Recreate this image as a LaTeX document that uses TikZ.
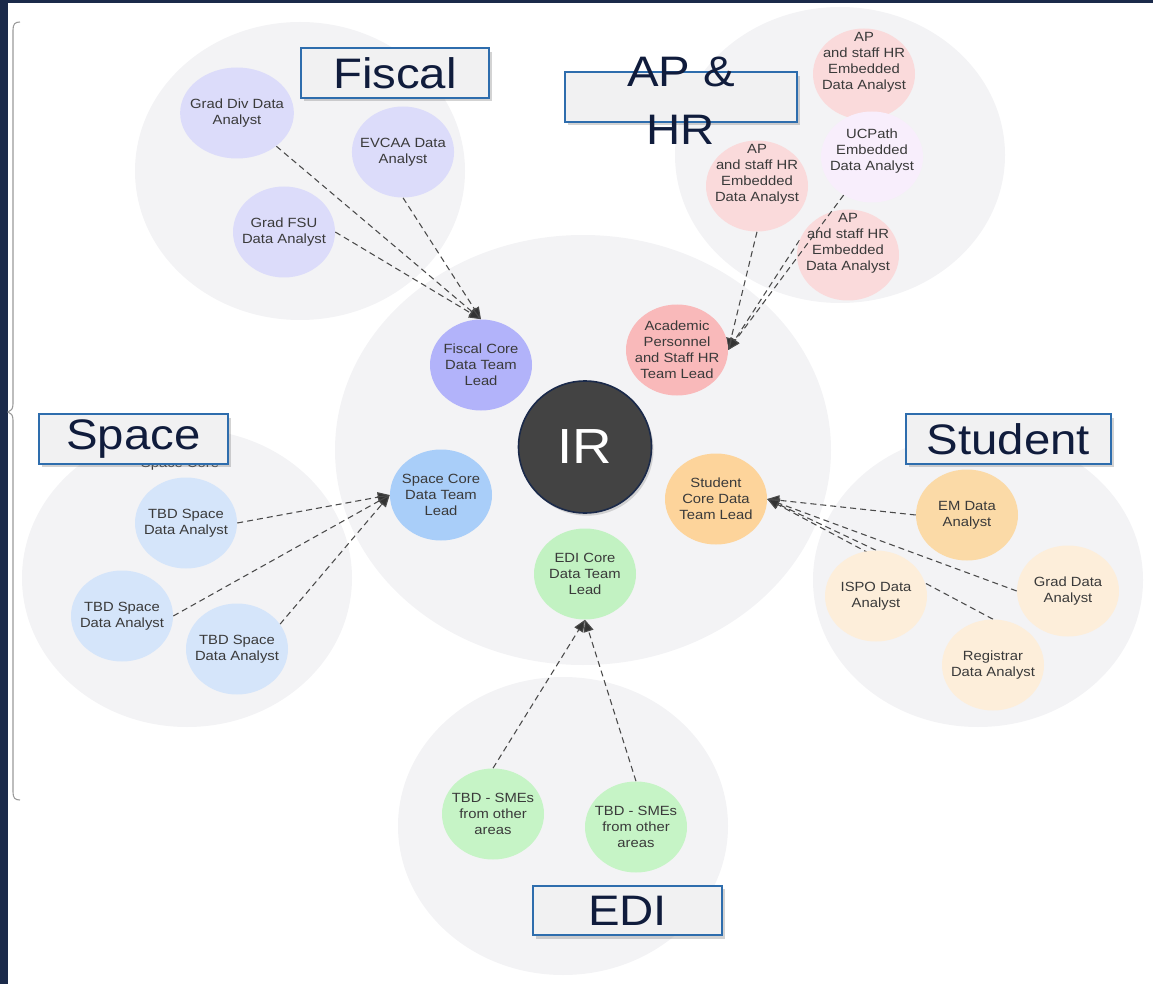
\documentclass[tikz,border=0pt]{standalone}
\usepackage{fontspec}
\setmainfont{Liberation Sans}[FakeStretch=1.11]
\usetikzlibrary{shapes.geometric,arrows.meta,shadows}

\definecolor{navy}{HTML}{1B2A4A}
\definecolor{groupgray}{HTML}{F3F3F5}
\definecolor{fiscA}{HTML}{DCDCFA}
\definecolor{fiscL}{HTML}{B2B3FA}
\definecolor{apA}{HTML}{FADADB}
\definecolor{apU}{HTML}{F8EEFC}
\definecolor{apL}{HTML}{F9B9BA}
\definecolor{spA}{HTML}{D5E5FA}
\definecolor{spL}{HTML}{A9CEF9}
\definecolor{stuL}{HTML}{FDD49B}
\definecolor{stuE}{HTML}{FBDAA7}
\definecolor{stuA}{HTML}{FDEEDA}
\definecolor{ediL}{HTML}{C2F2C2}
\definecolor{ediA}{HTML}{C6F4C6}
\definecolor{tagblue}{HTML}{2E6DAD}
\definecolor{tagfill}{HTML}{F1F1F2}
\definecolor{ink}{HTML}{3A3A3A}
\definecolor{taginkk}{HTML}{101C3C}
\definecolor{irfill}{HTML}{434343}
\definecolor{feedgray}{HTML}{4A4A4A}

% text block set higher than the middle of its bubble
\newcommand{\liftup}[2]{\raisebox{#1}[\height][\depth]{\begin{tabular}{@{}c@{}}#2\end{tabular}}}

\pgfdeclarelayer{background}
\pgfdeclarelayer{edges}
\pgfsetlayers{background,edges,main}

\begin{document}
\begin{tikzpicture}[x=0.75pt, y=-0.75pt, every node/.style={font=\fontsize{10}{12}\selectfont,text=ink},
  group/.style={fill=groupgray},
  member/.style={ellipse,align=center,minimum width=76.5pt,minimum height=68.25pt,inner xsep=-5pt,inner ysep=-12pt},
  apnote/.style={member,fill=apA},
  feed/.style={draw=feedgray,line width=0.8pt,dash pattern=on 4.5pt off 3pt,-{Triangle[length=9pt,width=7.5pt,fill=black!80]}},
  tag/.style={draw=tagblue,line width=1.5pt,fill=tagfill,minimum height=37pt,font=\fontsize{32}{43.5}\selectfont,text=taginkk,
    drop shadow={shadow xshift=2pt,shadow yshift=-2.5pt,opacity=0.35}},
  tagtext/.style={font=\fontsize{32}{43.5}\selectfont,text=taginkk,align=center}]
\useasboundingbox (0,0) rectangle (1153,984);
% frame
\fill[navy] (0,0) rectangle (1153,3);
\fill[navy] (0,0) rectangle (8,984);
\draw[gray!80,line width=0.8pt] (20,22) .. controls (15,22) and (13,24) .. (13,30) -- (13,404)
  .. controls (13,409) and (11,411) .. (8,412) .. controls (11,413) and (13,415) .. (13,420) -- (13,792)
  .. controls (13,798) and (15,800) .. (20,800);
% groups
\begin{pgfonlayer}{background}
\fill[group] (300,171) ellipse [x radius=165, y radius=149];
\fill[group] (840,155) ellipse [x radius=165, y radius=148];
\fill[group] (583,450) ellipse [x radius=248, y radius=215];
\fill[group] (187,578) ellipse [x radius=165, y radius=149];
\fill[group] (978,580) ellipse [x radius=165, y radius=147];
\fill[group] (563,826) ellipse [x radius=165, y radius=149];
\end{pgfonlayer}
% fiscal
\node[member,fill=fiscA] (gdiv) at (237,113) {Grad Div Data\\Analyst};
\node[member,fill=fiscA] (evcaa) at (403,152) {EVCAA Data\\Analyst};
\node[member,fill=fiscA] (gfsu) at (284,232) {Grad FSU\\Data Analyst};
\node[member,fill=fiscL] (fisc) at (481,365) {Fiscal Core\\Data Team\\Lead};
% ap & hr
\node[apnote] (ap1) at (864,74) {\liftup{9pt}{AP\\and staff HR\\Embedded\\Data Analyst}};
\node[member,fill=apU] (ucp) at (872,157) {\liftup{4.5pt}{UCPath\\Embedded\\Data Analyst}};
\node[apnote] (ap2) at (757,186) {\liftup{9pt}{AP\\and staff HR\\Embedded\\Data Analyst}};
\node[apnote] (ap3) at (848,255) {\liftup{9pt}{AP\\and staff HR\\Embedded\\Data Analyst}};
\node[member,fill=apL] (aphr) at (677,350) {Academic\\Personnel\\and Staff HR\\Team Lead};
% space
\node[member,fill=spA] (sp1) at (186,523) {TBD Space\\Data Analyst};
\node[member,fill=spA] (sp2) at (122,616) {TBD Space\\Data Analyst};
\node[member,fill=spA] (sp3) at (237,649) {TBD Space\\Data Analyst};
\node[member,fill=spL] (spc) at (441,495) {Space Core\\Data Team\\Lead};
% student
\node[member,fill=stuE] (em) at (967,515) {EM Data\\Analyst};
\node[member,fill=stuA] (ispo) at (876,596) {ISPO Data\\Analyst};
\node[member,fill=stuA] (grad) at (1068,591) {Grad Data\\Analyst};
\node[member,fill=stuA] (reg) at (993,665) {Registrar\\Data Analyst};
\node[member,fill=stuL] (stu) at (716,499) {Student\\Core Data\\Team Lead};
% edi
\node[member,fill=ediA] (sme1) at (493,814) {TBD - SMEs\\from other\\areas};
\node[member,fill=ediA] (sme2) at (636,827) {TBD - SMEs\\from other\\areas};
\node[member,fill=ediL] (edi) at (585,574) {EDI Core\\Data Team\\Lead};
% centre
\node[ellipse,fill=irfill,draw=navy,line width=1.2pt,minimum width=99.75pt,minimum height=99pt,text=white,
  font=\fontsize{37}{40}\selectfont,drop shadow={shadow xshift=1.5pt,shadow yshift=-2pt,opacity=0.3}] (ir) at (585,447) {IR};
% feeds into the leads
\begin{pgfonlayer}{edges}
\draw[feed] (gdiv) -- (fisc.north); \draw[feed] (evcaa.south) -- (fisc.north); \draw[feed] (gfsu.east) -- (fisc.north);
\draw[feed] (ap2.south) -- (aphr.east); \draw[feed] (ap3.163) -- (aphr.east);
\draw[feed] (sp1.east) -- (spc.west); \draw[feed] (sp2.east) -- (spc.west); \draw[feed] (sp3.30) -- (spc.west);
\draw[feed] (em.west) -- (stu.east); \draw[feed] (ispo.north) -- (stu.east);
\draw[feed] (grad.west) -- (stu.east); \draw[feed] (reg.north) -- (stu.east);
\draw[feed] (sme1.north) -- (edi.south); \draw[feed] (sme2.north) -- (edi.south);
\end{pgfonlayer}
\draw[feed] (ucp) -- (aphr.east);
% group tags
\node[anchor=base] (spcore) at (180,467) {Space Core};
\node[tag,minimum width=141pt] (tfisc) at (395,73) {Fiscal};
\node[tag,minimum width=174pt] (taphr) at (681,97) {};
\node[tagtext] (taphrtext) at (681,101) {AP \&\\HR};
\node[tag,minimum width=142pt] (tspace) at (133.5,439) {Space};
\node[tag,minimum width=154pt] (tstu) at (1008.5,439) {Student};
\node[tag,minimum width=142pt] (tedi) at (627.5,910.5) {EDI};
\end{tikzpicture}
\end{document}
